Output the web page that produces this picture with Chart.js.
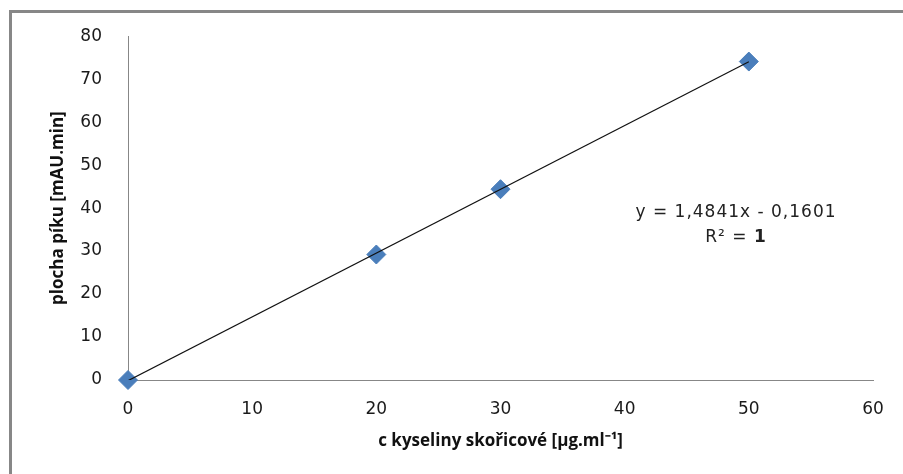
<!DOCTYPE html>
<html>
<head>
<meta charset="utf-8">
<script src="https://cdn.jsdelivr.net/npm/chart.js@4"></script>
<style>
  html, body { margin: 0; padding: 0; background: #fff; overflow: hidden; }
  #wrap { position: relative; width: 903px; height: 474px; }
  #frame {
    position: absolute; left: 9px; top: 10px; width: 1000px; height: 1000px;
    border: 3px solid #878787; pointer-events: none;
  }
</style>
</head>
<body>
<div id="wrap">
  <canvas id="myChart" width="903" height="474"></canvas>
  <div id="frame"></div>
</div>
<script>
// concentrations (x) and peak areas (y)
const concentrations = [0, 20, 30, 50];
const peakAreas = [0, 29.2, 44.4, 74.1];
// trendline from the chart label
const trendSlope = [1.4841];
const trendIntercept = [-0.1601];
const trendRange = [0, 50];
const equationLines = ["y = 1,4841x - 0,1601", "R² = ", "1"];

const points = concentrations.map((c, i) => ({ x: c, y: peakAreas[i] }));
const trend = trendRange.map(x => ({ x: x, y: trendSlope[0] * x + trendIntercept[0] }));

const equationLabel = {
  id: "equationLabel",
  afterDraw(chart) {
    const ctx = chart.ctx;
    ctx.save();
    ctx.fillStyle = "#222";
    ctx.textBaseline = "middle";
    ctx.textAlign = "center";
    ctx.letterSpacing = "1px";
    ctx.font = "17px 'DejaVu Sans'";
    ctx.fillText(equationLines[0], 736, 213);
    // second line: R² = 1 (the 1 in bold)
    const w1 = ctx.measureText(equationLines[1]).width;
    ctx.font = "bold 17px 'DejaVu Sans'";
    const w2 = ctx.measureText(equationLines[2]).width;
    const start = 736 - (w1 + w2) / 2;
    ctx.textAlign = "left";
    ctx.font = "17px 'DejaVu Sans'";
    ctx.fillText(equationLines[1], start, 238);
    ctx.font = "bold 17px 'DejaVu Sans'";
    ctx.fillText(equationLines[2], start + w1, 238);
    ctx.restore();
  }
};

const ctx = document.getElementById("myChart");
new Chart(ctx, {
  type: "scatter",
  data: {
    datasets: [
      {
        type: "line",
        label: "trend",
        data: trend,
        borderColor: "#111",
        borderWidth: 1.2,
        pointRadius: 0,
        fill: false,
        order: 1
      },
      {
        label: "plocha",
        data: points,
        backgroundColor: "#4a7ebb",
        borderColor: "#4a7ebb",
        pointStyle: "rectRot",
        pointRadius: 9.5,
        pointHoverRadius: 9.5,
        clip: false,
        order: 2
      }
    ]
  },
  options: {
    responsive: false,
    animation: false,
    events: [],
    layout: { padding: { left: 0, right: 30, top: 34, bottom: 0 } },
    plugins: { legend: { display: false }, tooltip: { enabled: false } },
    scales: {
      x: {
        type: "linear",
        min: 0,
        max: 60,
        ticks: { stepSize: 10, padding: 19, color: "#1a1a1a", font: { family: "DejaVu Sans", size: 17 } },
        grid: { display: false, drawTicks: false },
        border: { color: "#878787", width: 1 },
        title: {
          display: true,
          text: "c kyseliny skořicové [µg.ml⁻¹]",
          color: "#111",
          font: { family: "Open Sans", size: 17, weight: "bold" },
          padding: { top: 0, bottom: 23 }
        },
        afterFit(scale) { scale.height = 94; }
      },
      y: {
        min: 0,
        max: 80,
        ticks: { stepSize: 10, padding: 26, color: "#1a1a1a", font: { family: "DejaVu Sans", size: 17 } },
        grid: { display: false, drawTicks: false },
        border: { color: "#878787", width: 1 },
        title: {
          display: true,
          text: "plocha píku [mAU.min]",
          color: "#111",
          font: { family: "Open Sans", size: 17, weight: "bold" },
          padding: { top: 48, bottom: 0 }
        },
        afterFit(scale) { scale.width = 128; }
      }
    }
  },
  plugins: [equationLabel]
});
</script>
</body>
</html>
